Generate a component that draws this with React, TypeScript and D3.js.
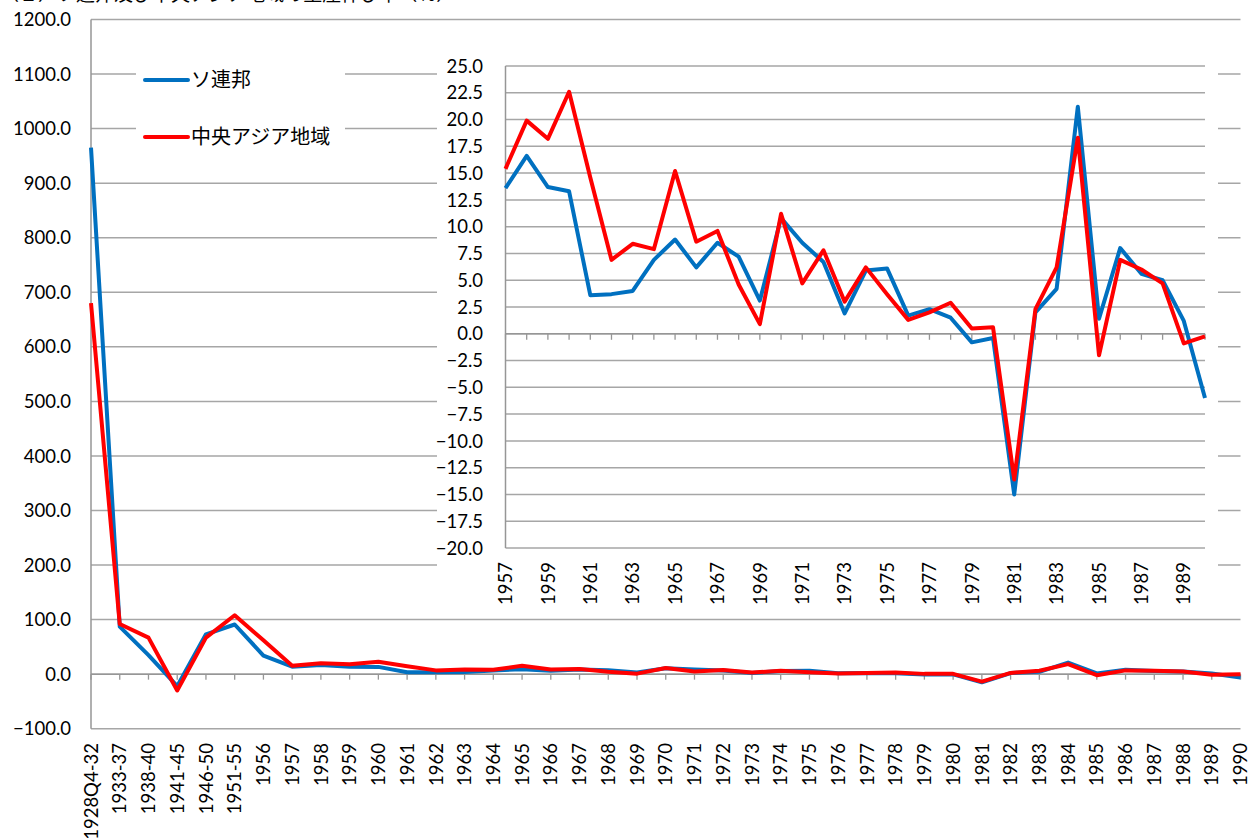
import React from "react";
import * as d3 from "d3";

const earlyCats = ["1928Q4-32", "1933-37", "1938-40", "1941-45", "1946-50", "1951-55", "1956"];
const years = ["1957", "1958", "1959", "1960", "1961", "1962", "1963", "1964", "1965", "1966", "1967", "1968", "1969", "1970", "1971", "1972", "1973", "1974", "1975", "1976", "1977", "1978", "1979", "1980", "1981", "1982", "1983", "1984", "1985", "1986", "1987", "1988", "1989", "1990"];

const ussrEarly = [965, 87, 35, -22, 73, 91, 34];
const asiaEarly = [680, 92, 67, -30, 67, 108, 62];

const ussrYears = [13.6, 16.6, 13.7, 13.3, 3.6, 3.7, 4.0, 6.9, 8.8, 6.2, 8.5, 7.2, 3.1, 10.8, 8.5, 6.7, 1.9, 5.9, 6.1, 1.7, 2.3, 1.5, -0.8, -0.4, -15.0, 2.0, 4.2, 21.2, 1.4, 8.0, 5.6, 5.0, 1.2, -6.0];
const asiaYears = [15.4, 19.9, 18.2, 22.6, 14.6, 6.9, 8.4, 7.9, 15.2, 8.6, 9.6, 4.6, 0.9, 11.2, 4.7, 7.8, 3.0, 6.2, 3.7, 1.3, 2.0, 2.9, 0.5, 0.6, -13.6, 2.3, 6.2, 18.3, -2.0, 6.9, 6.0, 4.7, -0.9, -0.25];

const mainTicks = [1200, 1100, 1000, 900, 800, 700, 600, 500, 400, 300, 200, 100, 0, -100];
const insetTicks = [25, 22.5, 20, 17.5, 15, 12.5, 10, 7.5, 5, 2.5, 0, -2.5, -5, -7.5, -10, -12.5, -15, -17.5, -20];
const insetLabelYears = ["1957", "1959", "1961", "1963", "1965", "1967", "1969", "1971", "1973", "1975", "1977", "1979", "1981", "1983", "1985", "1987", "1989"];

const seriesNames = ["ソ連邦", "中央アジア地域"];
const title = "（２）ソ連邦及び中央アジア地域の生産伸び率（％）";

const BLUE = "#0070C0";
const RED = "#FF0000";
const GRID = "#a6a6a6";
const AXIS = "#969696";
const NUM_FONT = "Lato, 'Open Sans', sans-serif";
const JP_FONT = "'Noto Sans CJK JP', 'Noto Sans', sans-serif";
const NUM_SIZE = 18.5;

export default function App() {
  const mainCats = [...earlyCats, ...years];
  const ussrMain = [...ussrEarly, ...ussrYears];
  const asiaMain = [...asiaEarly, ...asiaYears];

  const mx = d3.scalePoint<string>().domain(mainCats).range([91, 1240.5]);
  const my = d3.scaleLinear().domain([-100, 1200]).range([728.7, 19.5]);

  const ix = d3.scalePoint<string>().domain(years).range([505.5, 1205]);
  const iy = d3.scaleLinear().domain([-20, 25]).range([548, 66]);

  const mainLine = d3
    .line<number>()
    .x((_, i) => mx(mainCats[i]) as number)
    .y((d) => my(d));
  const insetLine = d3
    .line<number>()
    .x((_, i) => ix(years[i]) as number)
    .y((d) => iy(d));

  const fmt = d3.format(".1f");

  return (
    <svg
      width={1251}
      height={838}
      style={{ position: "absolute", left: 0, top: 0, background: "#fff" }}
    >
      <rect x={0} y={0} width={1251} height={838} fill="#fff" />
      <text x={0} y={1} fontFamily={JP_FONT} fontSize={19} fill="#000">
        {title}
      </text>

      {/* main gridlines */}
      {mainTicks.map((t) => (
        <line key={"mg" + t} x1={91} x2={1240.5} y1={my(t)} y2={my(t)} stroke={GRID} strokeWidth={1.5} />
      ))}
      {/* main y axis */}
      <line x1={91} x2={91} y1={my(1200)} y2={my(-100)} stroke={AXIS} strokeWidth={1.5} />
      {/* main category axis at 0 */}
      <line x1={91} x2={1240.5} y1={my(0)} y2={my(0)} stroke={AXIS} strokeWidth={1.5} />
      {mainCats.map((c) => (
        <line key={"mt" + c} x1={mx(c)} x2={mx(c)} y1={my(0)} y2={my(0) + 5.5} stroke={AXIS} strokeWidth={1.3} />
      ))}
      {mainTicks.map((t) => (
        <text key={"ml" + t} x={71} y={my(t)} dy="0.36em" textAnchor="end" fontFamily={NUM_FONT} fontSize={NUM_SIZE} fill="#000">
          {fmt(t)}
        </text>
      ))}
      {mainCats.map((c) => (
        <text
          key={"mxl" + c}
          transform={`translate(${mx(c)},743) rotate(-90)`}
          dy="0.36em"
          textAnchor="end"
          fontFamily={NUM_FONT}
          fontSize={NUM_SIZE}
          fill="#000"
        >
          {c}
        </text>
      ))}
      <path d={mainLine(ussrMain) || ""} fill="none" stroke={BLUE} strokeWidth={4} strokeLinejoin="round" />
      <path d={mainLine(asiaMain) || ""} fill="none" stroke={RED} strokeWidth={4} strokeLinejoin="round" />

      {/* legend */}
      <rect x={136} y={50} width={209} height={104} fill="#fff" />
      <line x1={145} x2={188} y1={80} y2={80} stroke={BLUE} strokeWidth={4} strokeLinecap="round" />
      <text x={191} y={80} dy="0.36em" fontFamily={JP_FONT} fontSize={20} fill="#000">
        {seriesNames[0]}
      </text>
      <line x1={145} x2={188} y1={137} y2={137} stroke={RED} strokeWidth={4} strokeLinecap="round" />
      <text x={191} y={137} dy="0.36em" fontFamily={JP_FONT} fontSize={20} fill="#000">
        {seriesNames[1]}
      </text>

      {/* inset */}
      <rect x={437} y={45} width={781} height={565} fill="#fff" />
      {insetTicks.map((t) => (
        <line key={"ig" + t} x1={505.5} x2={1205} y1={iy(t)} y2={iy(t)} stroke={GRID} strokeWidth={1.5} />
      ))}
      <line x1={505.5} x2={505.5} y1={iy(25)} y2={iy(-20)} stroke={AXIS} strokeWidth={1.5} />
      <line x1={505.5} x2={1205} y1={iy(0)} y2={iy(0)} stroke={AXIS} strokeWidth={1.5} />
      {years.map((c) => (
        <line key={"it" + c} x1={ix(c)} x2={ix(c)} y1={iy(0)} y2={iy(0) + 6} stroke={AXIS} strokeWidth={1.3} />
      ))}
      {insetTicks.map((t) => (
        <text key={"il" + t} x={483} y={iy(t)} dy="0.36em" textAnchor="end" fontFamily={NUM_FONT} fontSize={NUM_SIZE} fill="#000">
          {fmt(t)}
        </text>
      ))}
      {insetLabelYears.map((c) => (
        <text
          key={"ixl" + c}
          transform={`translate(${ix(c)},562) rotate(-90)`}
          dy="0.36em"
          textAnchor="end"
          fontFamily={NUM_FONT}
          fontSize={NUM_SIZE}
          fill="#000"
        >
          {c}
        </text>
      ))}
      <path d={insetLine(ussrYears) || ""} fill="none" stroke={BLUE} strokeWidth={4} strokeLinejoin="round" />
      <path d={insetLine(asiaYears) || ""} fill="none" stroke={RED} strokeWidth={4} strokeLinejoin="round" />
    </svg>
  );
}
